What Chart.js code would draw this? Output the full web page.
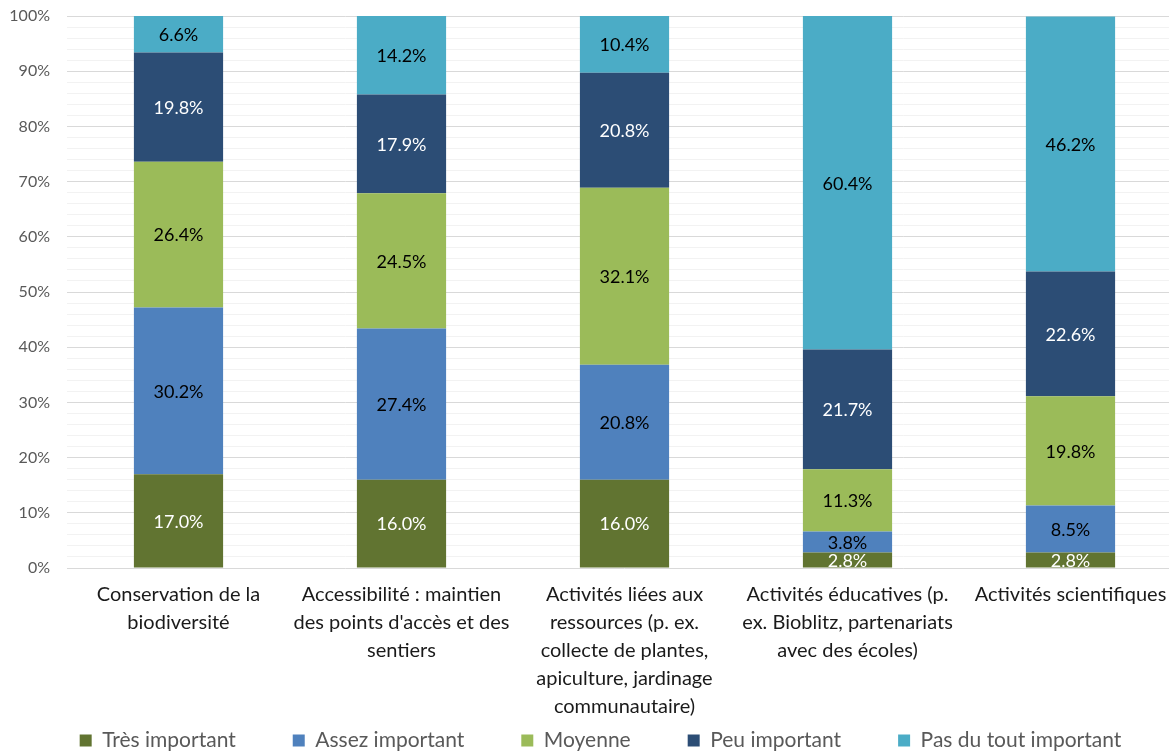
<!DOCTYPE html>
<html>
<head>
<meta charset="utf-8">
<script src="https://cdn.jsdelivr.net/npm/chart.js@4"></script>
<style>
  html, body { margin: 0; padding: 0; background: #fff; overflow: hidden; }
  #wrap { width: 1182px; height: 751px; }
</style>
</head>
<body>
<div id="wrap"><canvas id="graphique"></canvas></div>
<script>
const categories = [
    ["Conservation de la", "biodiversité"],
    ["Accessibilité : maintien", "des points d'accès et des", "sentiers"],
    ["Activités liées aux", "ressources (p. ex.", "collecte de plantes,", "apiculture, jardinage", "communautaire)"],
    ["Activités éducatives (p.", "ex. Bioblitz, partenariats", "avec des écoles)"],
    ["Activités scientifiques"]
];

const tresImportant = [17.0, 16.0, 16.0, 2.8, 2.8];
const assezImportant = [30.2, 27.4, 20.8, 3.8, 8.5];
const moyenne = [26.4, 24.5, 32.1, 11.3, 19.8];
const peuImportant = [19.8, 17.9, 20.8, 21.7, 22.6];
const pasDuTout = [6.6, 14.2, 10.4, 60.4, 46.2];

const nomsSeries = ["Très important", "Assez important", "Moyenne", "Peu important", "Pas du tout important"];
const couleurs = ["#617431", "#4f81bd", "#9bbb59", "#2c4d75", "#4bacc6"];
const couleursTexte = ["#ffffff", "#000000", "#000000", "#ffffff", "#000000"];

const police = "Lato, 'Open Sans', sans-serif";

// étiquettes de données au centre de chaque segment
const etiquettes = {
    id: 'etiquettes',
    afterLayout(chart) {
        // les axes sont rétrécis à la main : on élargit leur zone de découpe pour ne pas couper les libellés
        chart.scales.x.bottom = chart.height;
        chart.scales.y.left = 0;
    },
    afterDatasetsDraw(chart) {
        const ctx = chart.ctx;
        ctx.save();
        ctx.font = "18px " + police;
        ctx.textAlign = 'center';
        ctx.textBaseline = 'middle';
        chart.data.datasets.forEach((ds, i) => {
            const meta = chart.getDatasetMeta(i);
            meta.data.forEach((bar, j) => {
                const p = bar.getProps(['x', 'y', 'base'], true);
                ctx.fillStyle = couleursTexte[i];
                ctx.fillText(ds.data[j].toFixed(1) + '%', p.x, (p.y + p.base) / 2 + 1);
            });
        });
        ctx.restore();
    }
};

const series = [tresImportant, assezImportant, moyenne, peuImportant, pasDuTout];

new Chart(document.getElementById('graphique'), {
    type: 'bar',
    data: {
        labels: categories,
        datasets: series.map((d, i) => ({
            label: nomsSeries[i],
            data: d,
            backgroundColor: couleurs[i],
            borderWidth: 0,
            categoryPercentage: 1,
            barPercentage: 0.4
        }))
    },
    options: {
        responsive: true,
        maintainAspectRatio: false,
        animation: false,
        layout: { padding: { top: 16, left: 19, right: 0, bottom: -10 } },
        plugins: {
            legend: {
                position: 'bottom',
                labels: {
                    boxWidth: 12,
                    boxHeight: 12,
                    padding: 57,
                    color: '#595959',
                    font: { family: police, size: 21 }
                }
            },
            tooltip: { enabled: false }
        },
        scales: {
            x: {
                stacked: true,
                grid: { display: false },
                border: { display: false },
                ticks: {
                    color: '#1a1a1a',
                    padding: 5,
                    maxRotation: 0,
                    autoSkip: false,
                    font: { family: police, size: 20, lineHeight: '28px' }
                },
                afterFit: (s) => { s.height = 105; }
            },
            y: {
                stacked: true,
                min: 0,
                max: 100,
                border: { display: false },
                grid: {
                    drawTicks: true,
                    tickLength: 17,
                    tickColor: 'rgba(0,0,0,0)',
                    color: (c) => c.tick && c.tick.value % 10 === 0 ? '#d9d9d9' : '#f2f2f2'
                },
                ticks: {
                    stepSize: 2,
                    autoSkip: false,
                    padding: 0,
                    color: '#595959',
                    font: { family: police, size: 16 },
                    callback: (v) => v % 10 === 0 ? v + '%' : ''
                },
                afterFit: (s) => { s.width = 48; }
            }
        }
    },
    plugins: [etiquettes]
});
</script>
</body>
</html>
